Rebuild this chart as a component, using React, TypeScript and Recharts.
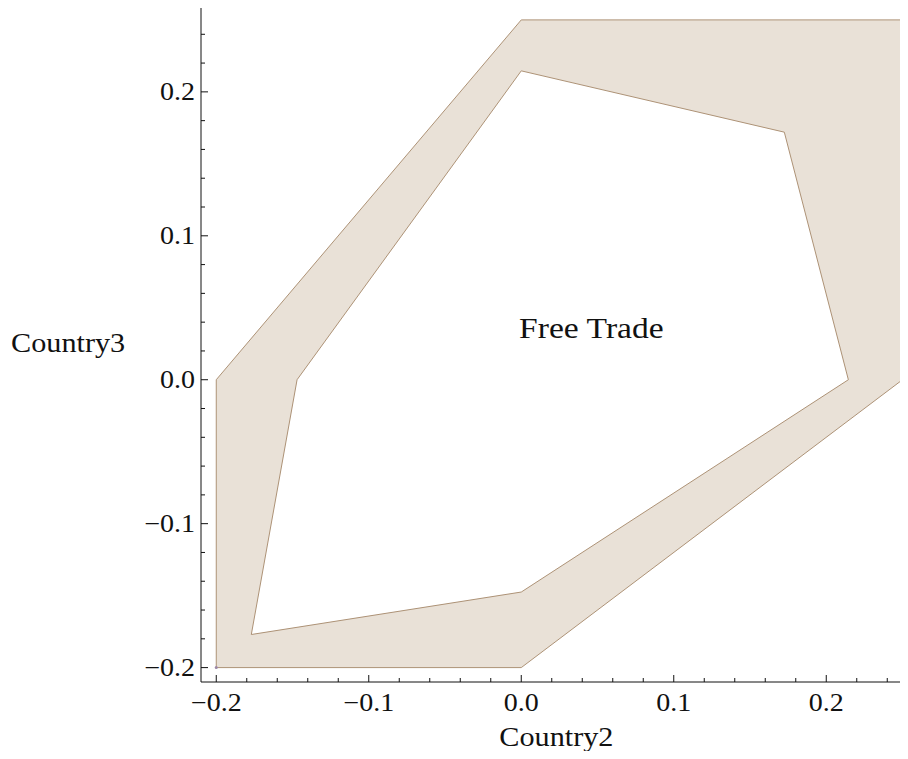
import { ComposedChart, ReferenceDot, Scatter, XAxis, YAxis } from "recharts";

// region boundary (Country2, Country3)
const outerRegion = [
  { x: -0.2, y: 0 },
  { x: 0, y: 0.25 },
  { x: 0.25, y: 0.25 },
  { x: 0.25, y: 0 },
  { x: 0, y: -0.2 },
  { x: -0.2, y: -0.2 },
];
// "Free Trade" hole
const innerRegion = [
  { x: -0.147, y: 0 },
  { x: 0, y: 0.2146 },
  { x: 0.1725, y: 0.172 },
  { x: 0.2145, y: 0 },
  { x: 0, y: -0.1475 },
  { x: -0.177, y: -0.177 },
];
const cornerDot = [{ x: -0.2, y: -0.2 }];

const axisDomain = [-0.21, 0.26];
const xTicks = [-0.2, -0.18, -0.16, -0.14, -0.12, -0.1, -0.08, -0.06, -0.04, -0.02, 0, 0.02, 0.04, 0.06, 0.08, 0.1, 0.12, 0.14, 0.16, 0.18, 0.2, 0.22, 0.24];
const yTicks = [-0.2, -0.18, -0.16, -0.14, -0.12, -0.1, -0.08, -0.06, -0.04, -0.02, 0, 0.02, 0.04, 0.06, 0.08, 0.1, 0.12, 0.14, 0.16, 0.18, 0.2, 0.22, 0.24];
const majorTicks = [-0.2, -0.1, 0, 0.1, 0.2];
const regionLabel = { x: 0.046, y: 0.036, text: "Free Trade" };
const xLabel = "Country2";
const yLabel = "Country3";

const SERIF = '"Liberation Serif", "Times New Roman", serif';
const FILL = "#e9e1d7";
const EDGE = "#ad9276";
const INK = "#111111";
const STRETCH = 1.12; // the source image is a bit wider than tall

const isMajor = (v: number) => majorTicks.some((m) => Math.abs(m - v) < 1e-9);
const fmt = (v: number) => (v < -1e-9 ? "\u2212" : "") + Math.abs(v).toFixed(1);

function StretchText({ x, y, size, anchor, children }: any) {
  return (
    <text
      transform={`translate(${x},${y}) scale(${STRETCH},1)`}
      textAnchor={anchor}
      fontSize={size}
      fontFamily={SERIF}
      fill={INK}
    >
      {children}
    </text>
  );
}

function FrameTick(props: any) {
  const { x, y, payload, side } = props;
  const v = payload.value;
  const major = isMajor(v);
  const len = major ? 7 : 4;
  let tick;
  let label = null;
  if (side === "bottom") {
    tick = <line x1={x} y1={y} x2={x} y2={y - len} stroke={INK} />;
    if (major)
      label = (
        <StretchText x={x} y={y + 29} size={25} anchor="middle">
          {fmt(v)}
        </StretchText>
      );
  } else if (side === "top") {
    tick = <line x1={x} y1={y} x2={x} y2={y + len} stroke={INK} />;
  } else if (side === "left") {
    tick = <line x1={x} y1={y} x2={x + len} y2={y} stroke={INK} />;
    if (major)
      label = (
        <StretchText x={x - 6} y={y + 8.5} size={25} anchor="end">
          {fmt(v)}
        </StretchText>
      );
  } else {
    tick = <line x1={x} y1={y} x2={x - len} y2={y} stroke={INK} />;
  }
  return (
    <g>
      {tick}
      {label}
    </g>
  );
}

export default function App() {
  return (
    <div style={{ margin: -8, width: 908, height: 759, overflow: "hidden", background: "#fff" }}>
      <ComposedChart width={930} height={759} margin={{ top: 5.5, right: 12.25, bottom: 0, left: 0 }}>
        <XAxis
          type="number"
          dataKey="x"
          domain={axisDomain}
          allowDataOverflow
          ticks={xTicks}
          interval={0}
          height={77}
          tickSize={0}
          tickMargin={0}
          tickLine={false}
          axisLine={{ stroke: INK }}
          tick={(p: any) => <FrameTick {...p} side="bottom" />}
          label={{
            value: xLabel,
            position: "insideBottom",
            content: (p: any) => (
              <StretchText x={p.viewBox.x + p.viewBox.width / 2 - 3} y={p.viewBox.y + p.viewBox.height - 13} size={27} anchor="middle">
                {xLabel}
              </StretchText>
            ),
          }}
        />
        <XAxis
          xAxisId="top"
          orientation="top"
          type="number"
          domain={axisDomain}
          allowDataOverflow
          ticks={xTicks}
          interval={0}
          height={0}
          tickSize={0}
          tickMargin={0}
          tickLine={false}
          axisLine={{ stroke: INK }}
          tick={(p: any) => <FrameTick {...p} side="top" />}
        />
        <YAxis
          type="number"
          dataKey="y"
          domain={axisDomain}
          allowDataOverflow
          ticks={yTicks}
          interval={0}
          width={201}
          tickSize={0}
          tickMargin={0}
          tickLine={false}
          axisLine={{ stroke: INK }}
          tick={(p: any) => <FrameTick {...p} side="left" />}
          label={{
            value: yLabel,
            position: "insideLeft",
            content: (p: any) => (
              <StretchText x={p.viewBox.x + 11} y={p.viewBox.y + p.viewBox.height / 2 + 8} size={27} anchor="start">
                {yLabel}
              </StretchText>
            ),
          }}
        />
        <YAxis
          yAxisId="right"
          orientation="right"
          type="number"
          domain={axisDomain}
          allowDataOverflow
          ticks={yTicks}
          interval={0}
          width={0}
          tickSize={0}
          tickMargin={0}
          tickLine={false}
          axisLine={{ stroke: INK }}
          tick={(p: any) => <FrameTick {...p} side="right" />}
        />
        <Scatter
          data={outerRegion}
          dataKey="y"
          fill={FILL}
          line={{ stroke: EDGE, strokeWidth: 1, fill: FILL }}
          lineJointType="linearClosed"
          shape={() => <g />}
          legendType="none"
          isAnimationActive={false}
        />
        <Scatter
          data={innerRegion}
          dataKey="y"
          fill="#ffffff"
          line={{ stroke: EDGE, strokeWidth: 1, fill: "#ffffff" }}
          lineJointType="linearClosed"
          shape={() => <g />}
          legendType="none"
          isAnimationActive={false}
        />
        <Scatter
          data={cornerDot}
          dataKey="y"
          fill="#9c88a8"
          shape={(p: any) => <circle cx={p.cx} cy={p.cy} r={1.5} fill="#9c88a8" />}
          legendType="none"
          isAnimationActive={false}
        />
        <ReferenceDot
          x={regionLabel.x}
          y={regionLabel.y}
          r={0}
          fill="none"
          stroke="none"
          label={{
            value: regionLabel.text,
            position: "center",
            content: (p: any) => (
              <StretchText x={p.viewBox.x + p.viewBox.width / 2} y={p.viewBox.y + p.viewBox.height / 2 + 10} size={30} anchor="middle">
                {regionLabel.text}
              </StretchText>
            ),
          }}
        />
      </ComposedChart>
    </div>
  );
}
